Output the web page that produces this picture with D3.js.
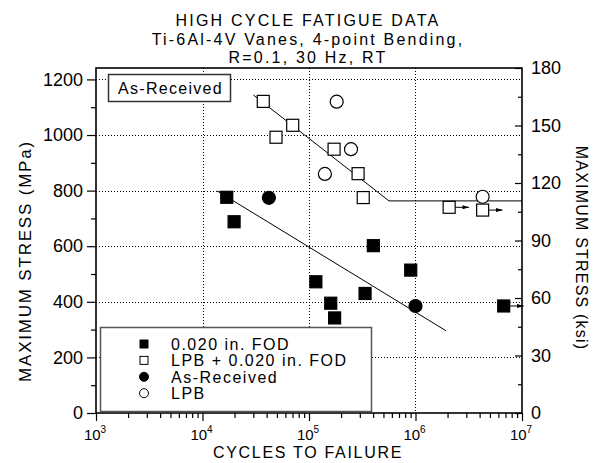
<!DOCTYPE html>
<html>
<head>
<meta charset="utf-8">
<script src="https://cdn.jsdelivr.net/npm/d3@7"></script>
<style>
  body { margin: 0; background: #fff; }
  text { font-family: "Liberation Sans", Arial, sans-serif; fill: #000; }
</style>
</head>
<body>
<svg id="chart" width="593" height="463"></svg>
<script>
// HCF data, Ti-6Al-4V vanes
const titleLines = ["HIGH CYCLE FATIGUE DATA", "Ti-6Al-4V Vanes, 4-point Bending,", "R=0.1, 30 Hz, RT"];

// [cycles, MPa, runout]
const fodPts = [[16900, 776, 0], [19800, 688, 0], [116000, 472, 0], [160000, 395, 0], [174000, 342, 0],
  [336000, 430, 0], [402000, 602, 0], [902000, 514, 0], [6730000, 385, 1]];
const lpbFodPts = [[37200, 1121, 0], [49000, 992, 0], [70300, 1035, 0], [172000, 949, 0], [289000, 861, 0],
  [323000, 775, 0], [2070000, 740, 1], [4270000, 730, 1]];
const asRecPts = [[42000, 774, 0], [1000000, 385, 0]];
const lpbPts = [[141000, 860, 0], [182000, 1120, 0], [248000, 949, 0], [4270000, 778, 0]];

const fodFit = [[13700, 799], [1930000, 296]];
const lpbFit = [[30000, 1144], [564000, 763], [10000000, 763]];

const mpaTicks = [0, 200, 400, 600, 800, 1000, 1200];
const ksiTicks = [0, 30, 60, 90, 120, 150, 180];
const decades = [3, 4, 5, 6, 7];
const legendLabels = ["0.020 in. FOD", "LPB + 0.020 in. FOD", "As-Received", "LPB"];

const KSI_TO_MPA = 6.895;
const L = 96, R = 522, T = 68, B = 413;

let svg = d3.select("#chart");

let x = d3.scaleLog().domain([1e3, 1e7]).range([L, R]);
let y = d3.scaleLinear().domain([0, 180 * KSI_TO_MPA]).range([B, T]);
let yk = d3.scaleLinear().domain([0, 180]).range([B, T]);

// grid
let grid = svg.append("g").attr("stroke", "#000").attr("stroke-width", 1).attr("stroke-dasharray", "1,2");
mpaTicks.filter(d => d > 0).forEach(d => {
  grid.append("line").attr("x1", L).attr("x2", R).attr("y1", Math.round(y(d)) + 0.5).attr("y2", Math.round(y(d)) + 0.5);
});
[1e4, 1e5, 1e6].forEach(d => {
  grid.append("line").attr("x1", Math.round(x(d)) + 0.5).attr("x2", Math.round(x(d)) + 0.5).attr("y1", T).attr("y2", B);
});

// axes
let minorX = [];
decades.slice(0, -1).forEach(e => { for (let k = 2; k <= 9; k++) minorX.push(k * Math.pow(10, e)); });

svg.append("g").attr("transform", `translate(0,${B})`)
  .call(d3.axisBottom(x).tickValues(minorX).tickSize(5).tickFormat(""))
  .call(g => g.select(".domain").remove());
let xAx = svg.append("g").attr("transform", `translate(0,${B})`)
  .call(d3.axisBottom(x).tickValues(decades.map(e => Math.pow(10, e))).tickSize(8).tickFormat(""));
xAx.select(".domain").remove();
decades.forEach(e => {
  let t = svg.append("text").attr("x", x(Math.pow(10, e)) - 1).attr("y", 440).attr("text-anchor", "middle")
    .style("font-size", "15px");
  t.append("tspan").text("10");
  t.append("tspan").attr("dy", -7).style("font-size", "10px").text(e);
});

let minorY = d3.range(100, 1200, 200);
svg.append("g").attr("transform", `translate(${L},0)`)
  .call(d3.axisLeft(y).tickValues(minorY).tickSize(5).tickFormat(""))
  .call(g => g.select(".domain").remove());
svg.append("g").attr("transform", `translate(${L},0)`)
  .call(d3.axisLeft(y).tickValues(mpaTicks).tickSize(9).tickPadding(4).tickFormat(d3.format("d")))
  .call(g => g.select(".domain").remove())
  .call(g => g.selectAll("text").style("font-size", "18px").style("font-family", "Liberation Sans, Arial, sans-serif"));

svg.append("g").attr("transform", `translate(${R},0)`)
  .call(d3.axisRight(yk).tickValues(d3.range(15, 180, 30)).tickSize(-4).tickFormat(""))
  .call(g => g.select(".domain").remove());
svg.append("g").attr("transform", `translate(${R},0)`)
  .call(d3.axisRight(yk).tickValues(ksiTicks).tickSize(-7).tickPadding(9))
  .call(g => g.select(".domain").remove())
  .call(g => g.selectAll("text").style("font-size", "18px").style("font-family", "Liberation Sans, Arial, sans-serif"));

svg.selectAll(".tick line").attr("stroke", "#000").attr("stroke-width", 1.2);

// frame
svg.append("rect").attr("x", L).attr("y", T).attr("width", R - L).attr("height", B - T)
  .attr("fill", "none").attr("stroke", "#000").attr("stroke-width", 1.6);

// titles
titleLines.forEach((s, i) => {
  svg.append("text").attr("x", 308).attr("y", 26 + i * 18.5).attr("text-anchor", "middle")
    .style("font-size", "16px").style("letter-spacing", "2.2px").text(s);
});
svg.append("text").attr("x", 308).attr("y", 458).attr("text-anchor", "middle")
  .style("font-size", "16px").style("letter-spacing", "1.7px").text("CYCLES TO FAILURE");
svg.append("text").attr("transform", "translate(31,261) rotate(-90)").attr("text-anchor", "middle")
  .style("font-size", "17px").style("letter-spacing", "1.8px").text("MAXIMUM STRESS (MPa)");
svg.append("text").attr("transform", "translate(576,248) rotate(90)").attr("text-anchor", "middle")
  .style("font-size", "16px").style("letter-spacing", "1.2px").text("MAXIMUM STRESS (ksi)");

// fit lines
let line = d3.line().x(d => x(d[0])).y(d => y(d[1]));
[fodFit, lpbFit].forEach(f => {
  svg.append("path").attr("d", line(f)).attr("fill", "none").attr("stroke", "#000").attr("stroke-width", 1);
});

// runout arrows
svg.append("defs").append("marker").attr("id", "arr").attr("viewBox", "0 0 10 6")
  .attr("refX", 10).attr("refY", 3).attr("markerWidth", 7).attr("markerHeight", 4).attr("orient", "auto")
  .append("path").attr("d", "M0,0L10,3L0,6Z").attr("fill", "#000");
[...fodPts, ...lpbFodPts].filter(d => d[2]).forEach(d => {
  let cx = x(d[0]), cy = y(d[1]);
  svg.append("line").attr("x1", cx + 6).attr("x2", cx + 20).attr("y1", cy).attr("y2", cy)
    .attr("stroke", "#000").attr("stroke-width", 1).attr("marker-end", "url(#arr)");
});

// markers
function squares(pts, fill, size) {
  svg.append("g").selectAll("rect").data(pts).join("rect")
    .attr("x", d => x(d[0]) - size / 2).attr("y", d => y(d[1]) - size / 2)
    .attr("width", size).attr("height", size)
    .attr("fill", fill).attr("stroke", "#000").attr("stroke-width", 1.2);
}
function circles(pts, fill, r) {
  svg.append("g").selectAll("circle").data(pts).join("circle")
    .attr("cx", d => x(d[0])).attr("cy", d => y(d[1])).attr("r", r)
    .attr("fill", fill).attr("stroke", "#000").attr("stroke-width", 1.2);
}
squares(fodPts, "#000", 12);
squares(lpbFodPts, "#fff", 12);
circles(asRecPts, "#000", 6.5);
circles(lpbPts, "#fff", 6.5);

// as-received label box
svg.append("rect").attr("x", 108.5).attr("y", 74.5).attr("width", 122).attr("height", 27)
  .attr("fill", "#fff").attr("stroke", "#333").attr("stroke-width", 1.5);
svg.append("text").attr("x", 118).attr("y", 94).style("font-size", "16px").style("letter-spacing", "1.3px")
  .text("As-Received");

// legend
let lg = svg.append("g");
lg.append("rect").attr("x", 100.5).attr("y", 327.5).attr("width", 271).attr("height", 84)
  .attr("fill", "#fff").attr("stroke", "#555").attr("stroke-width", 1.5);
legendLabels.forEach((s, i) => {
  let cy = 344 + i * 16.4;
  if (i < 2) {
    lg.append("rect").attr("x", 140).attr("y", cy - 4).attr("width", 8).attr("height", 8)
      .attr("fill", i === 0 ? "#000" : "#fff").attr("stroke", "#000").attr("stroke-width", 1);
  } else {
    lg.append("circle").attr("cx", 144).attr("cy", cy).attr("r", 4.5)
      .attr("fill", i === 2 ? "#000" : "#fff").attr("stroke", "#000").attr("stroke-width", 1);
  }
  lg.append("text").attr("x", 171).attr("y", cy + 6).style("font-size", "16px").style("letter-spacing", "1.5px").text(s);
});
</script>
</body>
</html>
